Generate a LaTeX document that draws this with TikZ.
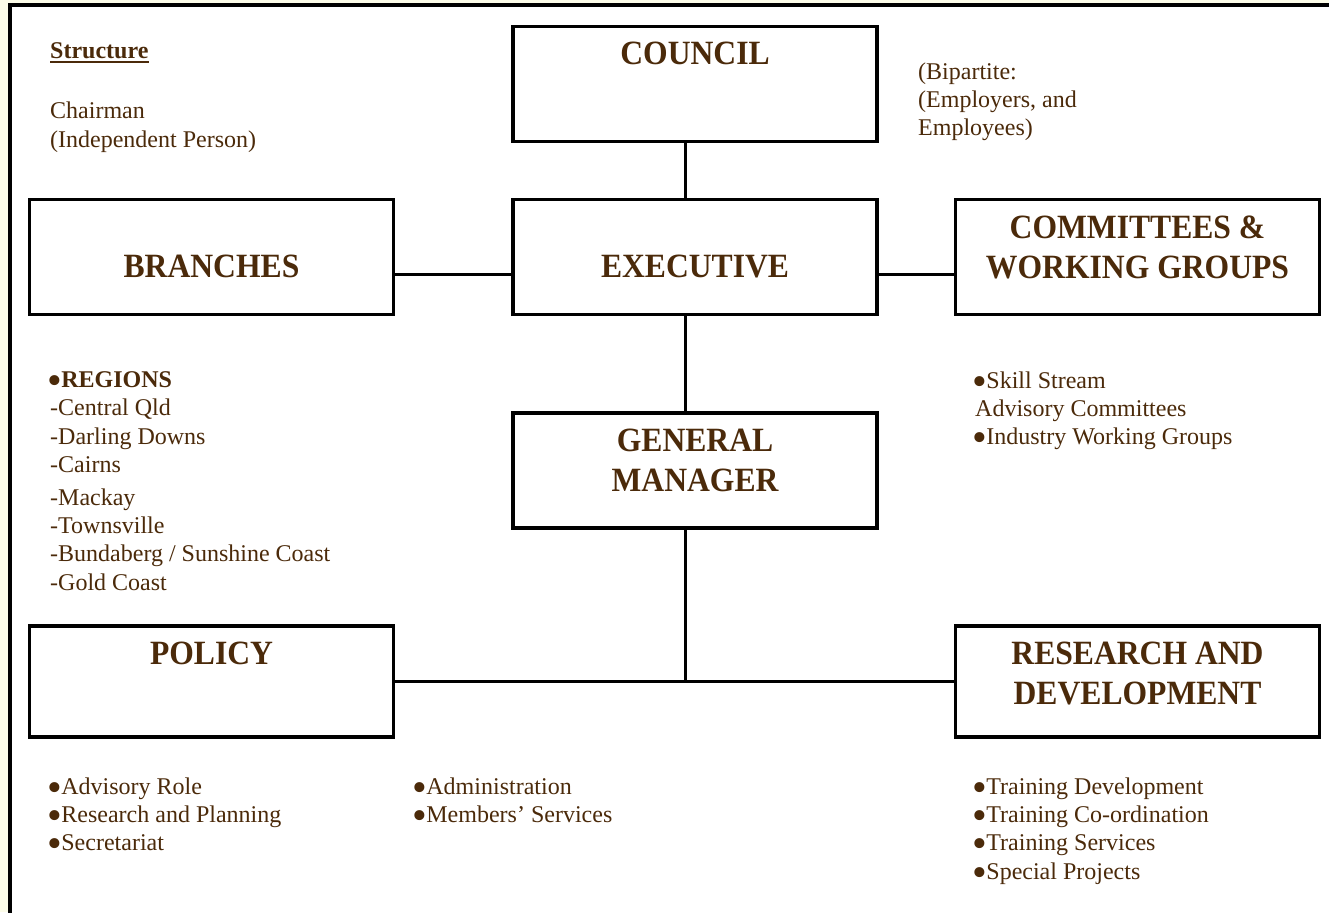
\documentclass[tikz,border=0pt]{standalone}
\usepackage{fontspec}
\setmainfont{Liberation Serif}
\newfontfamily\headfont[FakeStretch=0.93]{Liberation Serif}
\usetikzlibrary{positioning}
\definecolor{inkbrown}{RGB}{75,42,10}
\definecolor{paper}{RGB}{252,252,232}
\newcommand\blt{\hspace{-2.5pt}\smash{\raisebox{-7pt}{\fontsize{42}{28}\selectfont•}}\hspace{-1pt}}

\begin{document}
\begin{tikzpicture}[x=1pt,y=-1pt,
  unit/.style={draw=black,line width=3.5pt,minimum width=364pt,minimum height=115pt,inner sep=0pt},
  head/.style={text=inkbrown,font=\headfont\bfseries\fontsize{34}{40}\selectfont,align=center,inner sep=0pt},
  notes/.style={text=inkbrown,font=\fontsize{24}{28.2}\selectfont,align=left,inner sep=0pt,anchor=north west},
  link/.style={line width=3pt}]
  \useasboundingbox (0,0) rectangle (1329,912);
  \fill[paper] (0,0) rectangle (1329,912);
  \clip (0,0) rectangle (1329,912);
  \draw[line width=4pt,fill=white] (9.5,5.3) rectangle (1345,930);

  % boxes
  \node[unit] (council)    at (695,84)      {};
  \node[unit] (executive)  at (695,257)     {};
  \node[unit] (branches)   at (211.5,257)   {};
  \node[unit] (committees) at (1137.5,257)  {};
  \node[unit] (manager)    at (695,470.5)   {};
  \node[unit,minimum height=111pt] (policy) at (211.5,681.5)  {};
  \node[unit,minimum height=111pt] (research) at (1137.5,681.5) {};

  \node[head,below=17pt of council.north]    (councilhead)    {COUNCIL};
  \node[head,below=57pt of executive.north]  (executivehead)  {EXECUTIVE};
  \node[head,below=57pt of branches.north]   (brancheshead)   {BRANCHES};
  \node[head,below=18pt of committees.north] (committeeshead) {COMMITTEES \&\\WORKING GROUPS};
  \node[head,below=18pt of manager.north]    (managerhead)    {GENERAL\\MANAGER};
  \node[head,below=18pt of policy.north]     (policyhead)     {POLICY};
  \node[head,below=18pt of research.north]   (researchhead)   {RESEARCH AND\\DEVELOPMENT};

  % links
  \draw[link] ([xshift=-10pt]council.south) -- ([xshift=-10pt]executive.north);
  \draw[link] ([yshift=-17pt]executive.west) -- ([yshift=-17pt]branches.east);
  \draw[link] ([yshift=-17pt]executive.east) -- ([yshift=-17pt]committees.west);
  \draw[link] ([xshift=-10pt]executive.south) -- ([xshift=-10pt]manager.north);
  \draw[link] (policy.east) -- (research.west);
  \draw[link] ([xshift=-10pt]manager.south) -- ([xshift=-10pt]manager.south |- policy.east);

  % notes
  \node[notes] (structure) at (50,42) {\textbf{Structure}};
  \draw[inkbrown,line width=2pt] ([yshift=-3.5pt]structure.south west) -- ([yshift=-3.5pt]structure.south east);
  \node[notes] (chairman) at (50,102) {Chairman\\(Independent Person)};
  \node[notes] (bipartite) at (918,62.5) {(Bipartite:\\(Employers, and\\Employees)};
  \node[notes] (regions) at (50,371.6) {\blt\textbf{REGIONS}\\-Central Qld\\-Darling Downs\\-Cairns\\[5pt]-Mackay\\-Townsville\\-Bundaberg / Sunshine Coast\\-Gold Coast};
  \node[notes] (streams) at (975,371.6) {\blt Skill Stream\\Advisory Committees\\\blt Industry Working Groups};
  \node[notes] (policylist) at (50,777.6) {\blt Advisory Role\\\blt Research and Planning\\\blt Secretariat};
  \node[notes] (adminlist) at (415,777.6) {\blt Administration\\\blt Members’ Services};
  \node[notes] (researchlist) at (975,777.6) {\blt Training Development\\\blt Training Co-ordination\\\blt Training Services\\\blt Special Projects};
\end{tikzpicture}
\end{document}
